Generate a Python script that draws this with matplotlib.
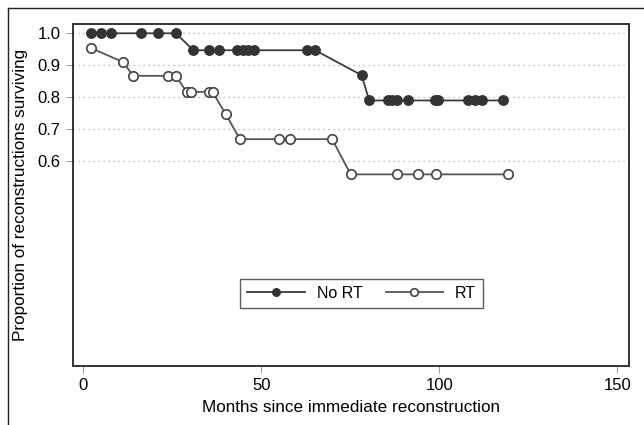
import matplotlib
matplotlib.use("Agg")
import matplotlib.pyplot as plt
from matplotlib.lines import Line2D

plt.rcParams['font.family'] = ['Liberation Sans', 'DejaVu Sans']

# Kaplan-Meier style points
no_rt_months = [2.1, 4.9, 7.7, 16.1, 21.1, 26.0, 30.9, 35.3, 38.2, 43.1, 44.8, 46.3, 48.0,
                62.8, 65.1, 78.2, 80.3, 85.7, 86.6, 88.0, 91.1, 98.8, 99.7, 108.1, 110.0,
                111.9, 118.0]
no_rt_surv = [1.0, 1.0, 1.0, 1.0, 1.0, 1.0, 0.947, 0.947, 0.947, 0.947, 0.947, 0.947, 0.947,
              0.947, 0.947, 0.869, 0.790, 0.790, 0.790, 0.790, 0.790, 0.790, 0.790, 0.790, 0.790,
              0.790, 0.790]

rt_months = [2.1, 11.2, 14.0, 23.9, 26.0, 29.0, 30.2, 35.3, 36.3, 40.0, 44.0, 55.1, 58.0,
             69.9, 75.1, 88.0, 93.9, 99.1, 119.2]
rt_surv = [0.954, 0.910, 0.867, 0.867, 0.867, 0.817, 0.817, 0.817, 0.817, 0.747, 0.669, 0.669,
           0.669, 0.669, 0.559, 0.559, 0.559, 0.559, 0.559]

y_ticks = [0.6, 0.7, 0.8, 0.9, 1.0]
x_ticks = [0, 50, 100, 150]

fig = plt.figure(figsize=(6.44, 4.25), dpi=100)
ax = fig.add_axes([73 / 644, 1 - 366 / 425, (629 - 73) / 644, (366 - 24) / 425])

for y in y_ticks:
    ax.axhline(y, color='#aaaaaa', linestyle=(0, (1, 3)), linewidth=0.9, zorder=0)

ax.plot(no_rt_months, no_rt_surv, color='#3c3c3c', linewidth=1.3, marker='o', markersize=6.8,
        markerfacecolor='#333333', markeredgecolor='#333333', label='No RT', zorder=3)
ax.plot(rt_months, rt_surv, color='#555555', linewidth=1.3, marker='o', markersize=6.8,
        markerfacecolor='white', markeredgecolor='#444444', markeredgewidth=1.2, label='RT',
        zorder=2)

ax.set_xlim(-2.9, 153.3)
ax.set_ylim(-0.040, 1.029)
ax.set_xticks(x_ticks)
ax.set_yticks(y_ticks)
ax.set_yticklabels(['0.6', '0.7', '0.8', '0.9', '1.0'])
ax.tick_params(axis='both', length=5, width=0.6, color='#888888', labelsize=12, pad=4)

for s in ax.spines.values():
    s.set_color('#333333')
    s.set_linewidth(1.4)

ax.set_xlabel('Months since immediate reconstruction', fontsize=12.3, labelpad=5)
ax.set_ylabel('Proportion of reconstructions surviving', fontsize=12.3, labelpad=7)

leg = ax.legend(loc='center', bbox_to_anchor=(0.519, 0.212), ncol=2, fontsize=11.5,
                frameon=True, fancybox=False, edgecolor='#333333', handlelength=3.6,
                columnspacing=1.45, handletextpad=0.75, borderpad=0.45, markerscale=0.8)
leg.get_frame().set_linewidth(1.0)

# outer frame (left and top edges of the image border)
fig.add_artist(Line2D([8 / 644, 8 / 644], [0, 1 - 8 / 425], color='#222222', linewidth=1.0))
fig.add_artist(Line2D([8 / 644, 1], [1 - 8 / 425, 1 - 8 / 425], color='#222222', linewidth=1.0))

fig.savefig('out.png', dpi=100)
plt.close(fig)
